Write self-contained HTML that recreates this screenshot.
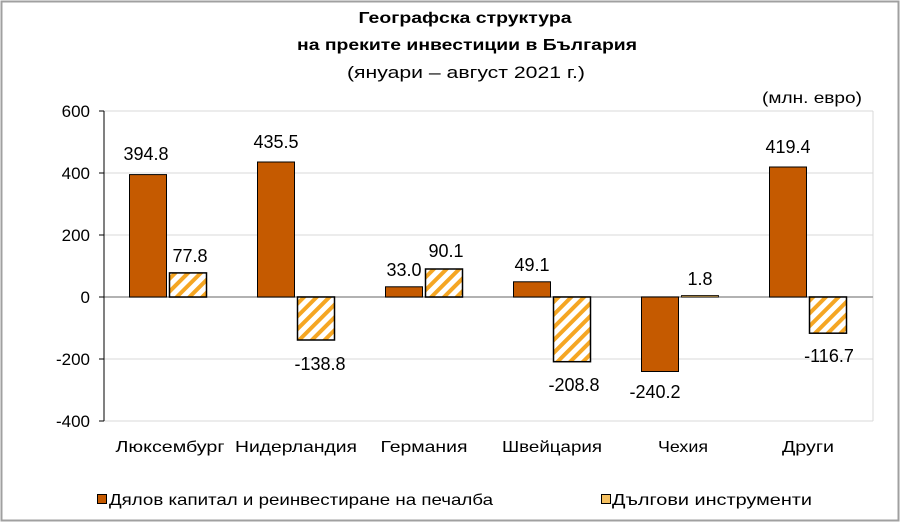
<!DOCTYPE html>
<html><head><meta charset="utf-8"><style>
html,body{margin:0;padding:0;background:#fff}
svg{display:block}
text{font-family:"Liberation Sans Narrow","Liberation Sans",sans-serif;fill:#000}
</style></head><body>
<svg width="900" height="522" viewBox="0 0 900 522" xmlns="http://www.w3.org/2000/svg">
<defs>
<pattern id="h" patternUnits="userSpaceOnUse" width="9" height="9" patternTransform="rotate(45)">
<rect width="9" height="9" fill="#fff"/><rect width="4" height="9" fill="#f5a623"/>
</pattern>
</defs>
<rect x="1.5" y="1.5" width="897" height="519" fill="#fff" stroke="#a0a0a0" stroke-width="2"/>
<text x="465" y="23" font-size="16" font-weight="bold" text-anchor="middle" textLength="213" lengthAdjust="spacingAndGlyphs">Географска структура</text>
<text x="467" y="50" font-size="16" font-weight="bold" text-anchor="middle" textLength="340" lengthAdjust="spacingAndGlyphs">на преките инвестиции в България</text>
<text x="466" y="78" font-size="17" text-anchor="middle" textLength="238" lengthAdjust="spacingAndGlyphs">(януари – август 2021 г.)</text>
<text x="812" y="103" font-size="16" text-anchor="middle" textLength="100" lengthAdjust="spacingAndGlyphs">(млн. евро)</text>
<g stroke="#d9d9d9" stroke-width="1">
<line x1="104" y1="111" x2="873" y2="111"/>
<line x1="104" y1="173" x2="873" y2="173"/>
<line x1="104" y1="235" x2="873" y2="235"/>
<line x1="104" y1="359" x2="873" y2="359"/>
<line x1="104" y1="421" x2="873" y2="421"/>
<line x1="873" y1="111" x2="873" y2="421"/>
</g>
<line x1="104" y1="297" x2="873" y2="297" stroke="#999" stroke-width="1.5"/>
<line x1="104" y1="111" x2="104" y2="421" stroke="#000" stroke-width="1"/>
<g stroke="#000"><line x1="99" y1="111" x2="104" y2="111"/><line x1="99" y1="173" x2="104" y2="173"/><line x1="99" y1="235" x2="104" y2="235"/><line x1="99" y1="297" x2="104" y2="297"/><line x1="99" y1="359" x2="104" y2="359"/><line x1="99" y1="421" x2="104" y2="421"/></g>
<g font-size="17" text-anchor="end">
<text x="90" y="117">600</text><text x="90" y="179">400</text><text x="90" y="241">200</text><text x="90" y="303">0</text><text x="90" y="365">-200</text><text x="90" y="427">-400</text>
</g>
<g fill="#c55a00" stroke="#000" stroke-width="1">
<rect x="129.5" y="174.6" width="37" height="122.4"/>
<rect x="257.5" y="162" width="37" height="135"/>
<rect x="385.5" y="286.8" width="37" height="10.2"/>
<rect x="513.5" y="281.8" width="37" height="15.2"/>
<rect x="641.5" y="297" width="37" height="74.5"/>
<rect x="769.5" y="167" width="37" height="130"/>
</g>
<g fill="url(#h)" stroke="#000" stroke-width="1.5">
<rect x="169.5" y="272.9" width="37" height="24.1"/>
<rect x="297.5" y="297" width="37" height="43"/>
<rect x="425.5" y="269" width="37" height="28"/>
<rect x="553.5" y="297" width="37" height="64.7"/>
<rect x="809.5" y="297" width="37" height="36.2"/>
</g>
<rect x="681.5" y="295.5" width="37" height="1.5" fill="#f5c060" stroke="#000" stroke-width="0.8"/>
<g font-size="18" text-anchor="middle">
<text x="146" y="160">394.8</text><text x="190" y="262">77.8</text>
<text x="276" y="148">435.5</text><text x="320" y="370">-138.8</text>
<text x="404" y="276">33.0</text><text x="446" y="257">90.1</text>
<text x="532" y="271">49.1</text><text x="574" y="391">-208.8</text>
<text x="655" y="398">-240.2</text><text x="700" y="285">1.8</text>
<text x="788" y="153">419.4</text><text x="829" y="362">-116.7</text>
</g>
<g font-size="16" text-anchor="middle">
<text x="170" y="452" textLength="109" lengthAdjust="spacingAndGlyphs">Люксембург</text>
<text x="296" y="452" textLength="122" lengthAdjust="spacingAndGlyphs">Нидерландия</text>
<text x="424" y="452" textLength="87" lengthAdjust="spacingAndGlyphs">Германия</text>
<text x="552" y="452" textLength="100" lengthAdjust="spacingAndGlyphs">Швейцария</text>
<text x="683" y="452" textLength="50" lengthAdjust="spacingAndGlyphs">Чехия</text>
<text x="808" y="452" textLength="52" lengthAdjust="spacingAndGlyphs">Други</text>
</g>
<rect x="97.5" y="494.5" width="9" height="9" fill="#c55a00" stroke="#000"/>
<text x="109" y="505" font-size="16" textLength="384" lengthAdjust="spacingAndGlyphs">Дялов капитал и реинвестиране на печалба</text>
<rect x="601.5" y="494.5" width="9" height="9" fill="#f5c060" stroke="#000"/>
<text x="612" y="505" font-size="16" textLength="200" lengthAdjust="spacingAndGlyphs">Дългови инструменти</text>
</svg>
</body></html>
